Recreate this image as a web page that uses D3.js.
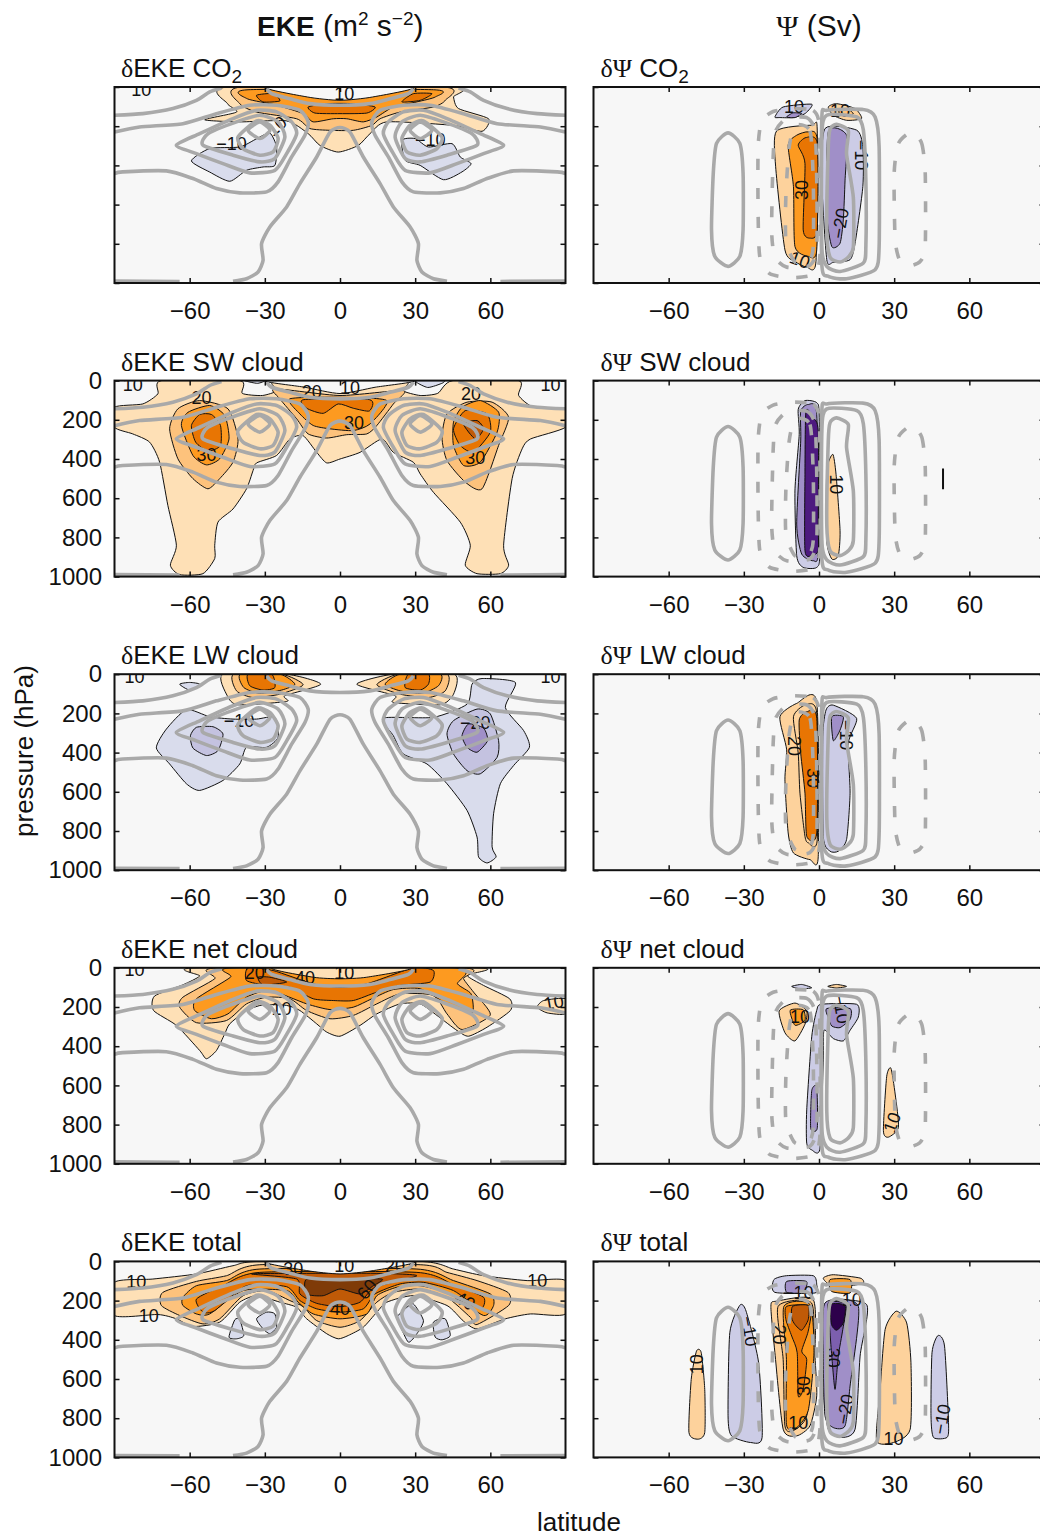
<!DOCTYPE html>
<html><head><meta charset="utf-8">
<script src="https://cdn.jsdelivr.net/npm/d3@7/dist/d3.min.js"></script>
<style>
html,body{margin:0;padding:0;background:#fff;overflow:hidden}
text{font-family:"Liberation Sans",Arial,sans-serif;fill:#111}
</style></head><body><svg id="c" width="1040" height="1538"></svg>
<script>
const latTicks=[-60,-30,0,30,60];
const pressureTicks=[0,200,400,600,800,1000];
const fillLevels=[0,10,15,20,30,40,50,60,-10,-15,-20,-30,-40,-50,-60];
const fillColors=["#f7f7f7","#fee0b6","#fdd29c","#fdc27c","#fd9a20","#e87503","#c05a07","#7f3b08","#d9dcec","#ccccE6","#c4c2e0","#a08fc8","#7c5fae","#4d1a7f","#2d004b"];
const rowNames=["CO2","SW cloud","LW cloud","net cloud","total"];

// climatological contours, flat lat,p lists
const ekeClimOpen=[
[-42.7,991,-37.3,978,-32.7,944,-30.7,884,-31.3,799,-28,714,-21.3,612,-16,493,-9.3,357,-4,230,0,207,4,230,9.3,357,16,493,21.3,612,28,714,31.3,799,30.7,884,32.7,944,37.3,978,42.7,991],
[-90,442,-86.7,433,-69.3,428,-58.7,467,-49.3,518,-40,540,-29.3,535,-24.7,484,-19.3,357,-14,246,-12.7,178,-16,119,-25.3,93,-36,93,-49.3,136,-62.7,187,-80,204,-90,230],
[90,442,86.7,433,69.3,428,58.7,467,49.3,518,40,540,29.3,535,24.7,484,19.3,357,14,246,12.7,178,16,119,25.3,93,36,93,49.3,136,62.7,187,80,204,90,230],
[-90,144,-78.7,136,-66.7,110,-57.3,68,-52,25,-47.3,5],
[90,144,78.7,136,66.7,110,57.3,68,52,25,47.3,5],
[-29.3,8,-27.3,34,-20,60,-12,85,0,93,12,85,20,60,27.3,34,29.3,8],
[-90,990,-64,992],[64,992,90,990]];
const ekeClimClosed=[
[-65.3,297,-56,238,-42.7,161,-33.3,119,-25.3,127,-19.3,178,-17.3,238,-21.3,340,-26,425,-36,438,-46.7,391,-57.3,340],
[-54.7,297,-52.7,238,-41.3,178,-32,144,-24.7,178,-22,255,-26,365,-32,382,-42.7,348],
[-40.7,255,-33.3,173,-28,195,-24.7,263,-26.7,331,-32,348,-38.7,314],
[-36.7,221,-32,178,-28,221,-32,263],
[65.3,297,56,238,42.7,161,33.3,119,25.3,127,19.3,178,17.3,238,21.3,340,26,425,36,438,46.7,391,57.3,340],
[54.7,297,52.7,238,41.3,178,32,144,24.7,178,22,255,26,365,32,382,42.7,348],
[40.7,255,33.3,173,28,195,24.7,263,26.7,331,32,348,38.7,314],
[36.7,221,32,178,28,221,32,263]];
const psiClimSolid=[
[-36.3,234,-31.6,288,-30.3,441,-30.3,729,-31.6,864,-36.3,915,-41.6,864,-42.9,729,-42.2,441,-40.9,288],
[3.1,119,17.7,115,22.4,153,24,305,24,814,22.4,932,11,978,3.7,966,1.1,898,1.1,170],
[3.1,144,15.1,153,17.7,220,18.7,475,18.7,814,17.7,898,8.4,941,3.1,915,1.1,814,1.1,254],
[7,190,11.7,224,11,342,13.7,563,13.7,817,11.7,868,8.4,893,4.4,868,3.1,732,3.7,308,4.4,215]];
const psiClimDashed=[
[-10.3,110,-2.3,120,0.1,190,0.4,478,0.4,851,-1.6,953,-10.3,973,-19.6,953,-23.6,868,-24.3,648,-24.3,308,-22.9,173,-18.3,125],
[-12.9,160,-4.9,156,-1.6,224,-0.9,478,-0.9,817,-3.6,910,-12.9,919,-17.6,868,-18.9,732,-18.3,356,-17.3,224],
[-9.6,195,-3.6,224,-2.3,478,-2.3,817,-4.3,893,-9.6,893,-13.2,783,-13.2,546,-11.9,308],
[37,229,41,288,42.4,441,42.4,814,40.4,890,36.4,912,32.4,890,30.4,780,30,441,31.7,288]];

// filled contour regions: [level, flat lat,p list]
const ekeCO2=[
[10,[-44.7,0,-44.9,85,-41.3,128,-54,167,-40,178,-21.3,173,-12.7,238,-8,298,-0.7,332,7.3,298,12,238,18.7,178,45.3,196,56.7,226,59.3,162,47.3,110,45.3,51,45.3,0]],
[20,[-39.3,0,-40,85,-33.3,128,-17.3,162,-12,212,-4,221,5.3,221,12.7,196,16,162,24,128,37.3,102,42,68,41.3,0]],
[30,[-36.7,14,-37,60,-25.3,93,-14.7,136,-10.7,178,-2.7,162,2.7,162,9.3,178,14.7,153,21.3,102,30.7,76,38,51,37.3,14]],
[40,[-12.7,102,-10,133,0,136,10.7,133,14,102,5.3,85,-5.3,85]],
[40,[-33.3,42,-30.7,76,-24,71,-26.7,34]],
[40,[24.7,76,32,68,36.7,34,29.3,34]],
[0,[-29,0,-13,51,0,68,13,51,29,0]],
[-10,[-59.3,377,-52,434,-44,481,-37.3,425,-30.7,408,-26,400,-25.3,306,-28,235,-33.3,264,-40,306,-52,314]],
[-10,[24.7,272,26,374,32,400,41.3,473,48.7,433,52.3,391,48,357,44.7,289,35.3,306,30,263]]];
const ekeSW=[
[10,[-90,136,-78.7,119,-72.7,68,-71.3,0,-40,0,-39,65,-31,76,-25,51,-25,0,25,0,25,51,32,76,39,65,45,0,71.3,0,71.3,76,77.3,136,90,144,90,238,76,298,72.7,348,68.7,500,65.3,840,67.3,942,64,985,54.7,985,50,942,52,840,48,722,37.3,570,32,476,29.3,417,21.3,366,16.7,298,8,366,0,400,-5.3,420,-9.3,366,-14.7,281,-20,298,-25.3,382,-33.3,420,-34.7,459,-37.3,552,-42.7,655,-48.7,722,-50,840,-50,908,-54.7,985,-64,990,-67.7,942,-65.3,840,-68.7,637,-72,416,-76,314,-82.7,272,-90,238]],
[20,[-68,246,-64.7,144,-56,102,-44.7,144,-40.7,298,-42.7,416,-48,500,-52.7,552,-58.7,500,-64.7,399]],
[20,[42.7,170,50.7,110,60.7,110,67.3,187,63.3,331,56.7,552,50,518,42.7,408,40.7,289]],
[20,[-26,42,-24,93,-17.3,195,-12.7,272,-5.3,293,2.7,276,10.7,272,14.7,229,21.3,119,25.3,51,0,76]],
[30,[-63.3,229,-60.7,162,-52,127,-46,178,-44.3,298,-48,399,-53.3,430,-58.7,382]],
[30,[45.3,212,48.7,136,56,102,63.3,161,62.7,263,56,416,49.3,433,45.3,331]],
[30,[-20,93,-16,170,-10.7,229,-4,246,5.3,255,12,221,18.7,102,0,85]],
[40,[-14.4,97,-13.3,141,-6.7,167,-0.7,119,5.3,141,11.7,155,11.7,97]],
[40,[-59.3,229,-56,173,-51.3,173,-47.7,229,-47.7,331,-52.7,360,-57.6,314]],
[40,[45.3,246,50,153,58.7,170,60,263,53.3,365,48,331]],
[50,[49.3,221,54.7,204,57.3,246,54,298]],
[0,[-29,0,-14,34,0,66,14,34,29,0]],
[-10,[30,0,35,35,41,12,41,0]],
[-10,[-38,0,-33,14,-30,0]]];
const ekeLW=[
[10,[-46.7,0,-45,110,-40.7,156,-21.3,139,-22,110,-7.7,51,-21.3,0]],
[10,[21.3,0,6.7,51,22,110,21.3,144,40,156,45.3,102,45.6,0]],
[20,[-42.4,0,-41.3,85,-34.7,119,-24,102,-14.7,54,-23.3,0]],
[20,[14.7,54,24,102,35.3,119,42,85,42.7,0,23.3,0]],
[30,[-39.7,0,-38.4,68,-32,98,-23.3,81,-18,51,-24,0]],
[30,[18,51,24,85,32.7,98,39.3,59,40,0,24,0]],
[40,[-36.7,0,-36,59,-30.7,81,-26,68,-27.3,0]],
[40,[26,68,32,81,35.3,51,35.3,0,27.3,0]],
[-10,[-64,51,-60,81,-56,51,-60,42]],
[-10,[-73.3,376,-69.3,280,-61.3,181,-52,217,-42.7,229,-33.3,229,-26,220,-24.7,322,-29.3,373,-37.3,373,-40,458,-46.7,542,-56,593,-61.3,559,-68,458]],
[-20,[-59.7,314,-57.3,271,-50.7,268,-46.7,305,-48.7,390,-53.3,415,-58.7,377]],
[-10,[17.3,224,37.3,220,50.7,153,52.7,51,56.7,22,70,42,66,170,73.3,288,75.6,373,69.3,466,64,559,61.3,712,60.7,881,62.3,932,58.7,963,55.3,932,54.7,831,50.7,695,42.7,559,34.7,458,25.3,407,21.3,314]],
[-20,[42.7,305,45.3,237,54.7,178,60,203,63.3,339,62.7,424,56,508,50.7,492,45.3,407]],
[-30,[48.7,314,51.3,254,57.3,275,58.9,339,54.7,398,50.7,373]]];
const ekeNet=[
[10,[-57.3,0,-56,42,-62.7,87,-74,144,-74.4,218,-65.3,294,-56,422,-53.3,464,-49.3,422,-46,337,-44,286,-37.3,218,-30.7,189,-21.3,192,-16,218,-9.3,286,-5.3,328,0,349,8,294,14.7,235,24,184,32,184,38.7,243,46.7,320,51.3,349,58.7,303,68,218,67.7,158,57.3,90,50.7,39,54.7,0]],
[20,[-48.7,0,-50,56,-62.7,150,-64,201,-57.3,280,-45.3,269,-37.3,184,-29.3,150,-20,158,-13.3,218,-4,260,5.3,243,14.7,184,24,133,37.3,141,42.7,235,48.7,315,60,240,53.3,124,49.3,56,48.7,0]],
[30,[-42.7,0,-43.7,48,-57.3,158,-58,218,-51.3,260,-44.7,235,-37.3,150,-28,116,-13.3,184,-4,213,5.3,201,12.7,158,21.3,111,32,107,42.7,184,52.7,230,52.3,133,46.9,82,46,0]],
[40,[-36.7,0,-37.3,65,-29.3,90,-20,99,-10.7,158,-2.7,167,5.3,167,14.7,124,24,90,36,73,37.3,14,29.3,0,10.7,82,0,99,-10.7,82,-26.7,14]],
[50,[-32.7,48,-30.7,87,-21.3,73,-28,48]],
[10,[-26.7,0,-10.7,48,0,56,10.7,48,28,0]],
[10,[78.7,201,81.3,167,90,158,90,235,82.7,230]]];
const ekeTotal=[
[10,[-90,107,-74.7,90,-57.3,64,-42.7,22,-32,0,32,0,45.3,39,57.3,73,74.7,98,90,98,90,268,76,268,66,293,54.7,344,49.3,305,42.7,225,29.3,175,18.7,208,14.7,259,9.3,336,3.3,378,-0.7,395,-5.3,369,-13.3,293,-17.3,234,-24,208,-33.3,175,-40,208,-48,310,-58.7,332,-65.3,293,-72.7,271,-90,276]],
[20,[-71.3,225,-64,276,-54.7,319,-48,293,-38.7,175,-29.3,149,-20,200,-14.7,231,-9.3,302,0,336,8,302,14.7,208,21.3,158,32,141,42.7,183,52,285,54.7,322,67.3,225,67,158,54.7,98,42.7,56,32,17,-32,17,-45.3,73,-57.3,102,-70.7,158]],
[30,[-62.7,183,-62.7,225,-57.3,268,-52,268,-38.7,149,-21.3,149,-16.7,208,-10.7,268,0,293,10.7,268,14.7,175,22.7,132,32,124,44,166,57.3,276,61.3,225,60,166,45.3,98,30.7,39,-32,39,-45.3,98,-57.3,124]],
[40,[-57.3,192,-54.7,259,-50,251,-37.3,124,-21.3,129,-16,200,-9.3,242,0,259,9.3,242,14,166,24,115,33.3,107,45.3,149,56,242,57.3,183,45.3,119,30.7,56,-32,56,-46.7,124]],
[50,[-35.3,64,-17.3,90,-16,166,-9.3,214,0,231,8,208,14,132,30.7,73,14.7,61,-16,61]],
[60,[-13.3,90,-13.3,166,-6.7,175,0,141,8,166,13.3,124,16.7,90,0,90]],
[0,[-29.3,0,-13.3,47,0,64,13.3,47,29.3,0]],
[-10,[-44.3,386,-42,298,-40,298,-38.4,378,-41.3,395]],
[-10,[-33.3,293,-29.3,259,-26,268,-25.3,336,-28,369,-30.7,344]],
[-10,[22.7,285,26,242,29.3,217,33.3,302,30.7,369,27.3,412,24,327]],
[-10,[37.3,310,42,293,44,378,40.7,400,38,386]]];
const psiCO2=[
[15,[-16.9,224,-17.3,407,-13.6,831,-9.6,890,-4.9,919,-1.2,890,-0.7,220,-2.9,195]],
[30,[-8.9,246,-12.3,297,-10.2,508,-9.6,814,-4.3,864,-0.9,831,-0.7,271,-4.3,229]],
[40,[-5.2,258,-8.3,297,-5.6,390,-6.3,729,-3.6,771,-0.7,729,-0.7,288]],
[-15,[-17.6,153,-14.3,102,-2.9,88,-5.6,136,-10.3,156,-15.6,156]],
[-30,[-12.9,153,-10.3,132,-6.9,136,-9.6,156]],
[15,[3.7,102,7,85,14.4,110,17,161,11,170,5.7,144]],
[20,[7.7,127,11,110,13.7,136,10.5,145]],
[-15,[2.4,212,15,220,17.5,305,17.5,508,14.4,797,12.4,881,5.7,895,3.1,881,1.1,475]],
[-30,[3.7,229,11,246,10.4,475,9.7,678,8.4,797,5.1,814,3.1,644]]];
const psiSW=[
[-15,[-8.3,147,-5.6,102,-0.9,113,0.1,190,0.4,868,-0.9,953,-6.3,953,-8.9,893,-9.6,563,-7.9,275]],
[-30,[-7.3,156,-4.3,122,-0.9,173,-0.3,868,-2.3,919,-6.9,885,-8.9,732,-7.3,308]],
[-50,[-5.2,156,-2.3,190,-0.3,258,-0.3,732,-0.3,868,-2.9,893,-5.6,868,-5.6,478]],
[15,[5.5,376,3.1,461,3.1,817,5.1,910,7.7,893,8.4,766,6.8,478]]];
const psiLW=[
[15,[-15.6,217,-8.9,149,-0.9,141,-0.3,929,-3.6,946,-10.2,912,-12.3,810,-13.6,539,-12.9,386]],
[15,[-10.2,217,-5.6,158,-0.9,200,-0.7,844,-4.3,860,-5.6,827,-7.6,607,-8.3,403]],
[40,[-7.9,234,-4.9,192,-0.9,225,-0.9,810,-4.9,827,-5.6,607,-7.3,403]],
[-15,[2.8,183,5.7,158,15,225,11.7,352,12.4,607,11,844,7.7,903,4.4,903,1.7,827,1.5,319]],
[-30,[5.1,217,9.7,217,8.4,285,5.7,339]]];
const psiNet=[
[-15,[-10.9,95,-6.9,85,-2.9,102,-7.6,107]],
[15,[3.5,95,7,85,11,95,7,103]],
[15,[-15.9,220,-9.6,180,-4.9,220,-5.6,288,-9.6,373,-13.6,331]],
[30,[-11.5,217,-6.3,214,-5.6,268,-9.6,293]],
[-15,[-0.9,217,1,186,15,186,15.7,251,12.4,319,9.7,373,5.7,361,2,319,1.7,470,0.4,920,-2.9,929,-4.9,895,-4.9,725,-2.9,352]],
[-30,[3.1,208,12.4,208,12.4,263,8.4,305,5.1,297,3.7,254]],
[-30,[-2.9,627,-0.9,610,-0.7,819,-3.3,819]],
[15,[28.7,512,30.4,644,31.7,814,27.7,864,25.7,831,27,556]]];
const psiTotal=[
[15,[-48.9,458,-47,466,-45.6,653,-45.6,873,-48.3,907,-51.9,873,-51,602]],
[-15,[-31.6,224,-29.1,254,-24.1,517,-22.7,898,-27.3,924,-34.9,890,-36.3,788,-35.6,364]],
[-15,[-18,93,-13,73,-2.3,73,-0.9,119,-1.6,161,-17.6,158]],
[-30,[-12.9,102,-5,102,-6.3,158,-12.9,158]],
[15,[1.7,85,5.7,68,16.4,85,17.7,110,12.4,124,4.4,119]],
[30,[4.4,93,12.4,93,12.4,161,5,153]],
[15,[-19.2,229,-17,203,-2.3,195,-1.6,483,-0.9,686,-3.6,839,-8.9,890,-14.3,856,-17.6,466]],
[20,[-16.3,229,-3,212,-2.3,466,-4.9,788,-10.3,864,-13.6,839,-14.3,500]],
[30,[-14,229,-3.6,220,-2,466,-4.3,761,-9.6,856,-13,831,-13,500]],
[40,[-12.9,229,-3.3,229,-4.3,356,-6.9,458,-4.9,500,-6.3,653,-8.3,686,-8.7,466,-10.9,381,-13.2,297]],
[50,[-10.5,229,-4.3,225,-4.3,297,-6.9,351,-9.6,322,-10.9,288]],
[-15,[1.7,229,19,220,16.4,483,14.4,856,8.4,898,3.7,856,1.7,653]],
[-30,[2.4,212,15.7,229,12.4,636,10.4,839,5.7,848,2.4,788,1.7,483]],
[-40,[3.7,212,10.8,220,9.5,347,7.7,483,6.4,653,5.1,483,4.4,364]],
[-60,[4.7,220,10.4,225,9.7,314,7,351,5,322]],
[15,[30.8,254,35,314,36.7,517,36.4,856,29.7,924,23,915,24.4,653,26.4,347]],
[-15,[47.5,378,50.1,432,51.7,822,51.1,898,45.7,898,44.7,788,45.1,466]]];

// contour labels: [lat, p, text, rotation]
const ekeCO2Labels=[[1.7,34,"10",0],[-43.3,289,"−10",0],[36,268,"−10",0],[-79.3,14,"10",0],[-27,215,"−10",-40]];
const ekeSWLabels=[[-55.3,85,"20",0],[-53.3,379,"30",0],[-11.3,54,"20",0],[4,37,"10",0],[5.6,216,"30",0],[52.3,68,"20",0],[54,391,"30",0],[-82.7,18,"10",0],[84,18,"10",0]];
const ekeLWLabels=[[-40.3,234,"−10",0],[54,246,"−20",0],[-82,12,"10",0],[84,12,"10",0]];
const ekeNetLabels=[[1.7,26,"10",0],[-23.3,206,"10",0],[85.3,175,"10",-10],[-14,48,"40",0],[-34,26,"20",0],[-82,8,"10",0]];
const ekeTotalLabels=[[-81.3,102,"10",0],[-76.3,276,"10",0],[78.7,98,"10",0],[-18.7,34,"30",0],[1.7,22,"10",0],[10.7,141,"60",-50],[0,242,"40",0],[50,200,"40",30],[22,22,"20",0]];
const psiCO2Labels=[[-7,525,"30",-90],[-7.6,881,"10",20],[17,347,"−10",90],[8.4,695,"−20",-80],[-10,102,"10",0],[8.4,119,"10",0]];
const psiSWLabels=[[7,529,"10",90]];
const psiLWLabels=[[-9.6,366,"20",90],[-2.3,530,"30",90],[11,310,"−10",90]];
const psiNetLabels=[[-7.6,246,"10",0],[29.1,788,"10",-70],[9,208,"−10",80]];
const psiTotalLabels=[[-48.9,525,"10",-90],[-27.6,356,"−10",80],[-15.9,373,"20",90],[-8.3,161,"−10",0],[11,195,"−10",0],[-6.3,636,"30",-90],[-8.3,822,"10",0],[10.4,754,"−20",-80],[5.7,492,"30",90],[29.7,903,"10",0],[49,805,"−10",-80]];
// short isolated contour segment in the SW cloud psi panel
const psiSWSegment=[49.5,449,49.5,554];

const svg=d3.select("#c");
const rowTop=i=>87+293.6*i, panelH=196, panelW=451;
const pairs=f=>d3.range(0,f.length,2).map(i=>[f[i],f[i+1]]);
const color=d3.scaleOrdinal(fillLevels,fillColors);
const y0=d3.scaleLinear().domain([0,1000]).range([0,panelH]);
const x0=d3.scaleLinear().domain([-90,90]).range([0,panelW]);
const closed=d3.line().x(d=>x0(d[0])).y(d=>y0(d[1])).curve(d3.curveCardinalClosed.tension(.35));
const open=d3.line().x(d=>x0(d[0])).y(d=>y0(d[1])).curve(d3.curveCardinal.tension(.35));
const fmt=d3.format("d");

function panel(left,i,fills,labels,isEke){
  const g=svg.append("g").attr("transform",`translate(${left},${rowTop(i)})`);
  const id=`clip${isEke?"e":"p"}${i}`;
  g.append("clipPath").attr("id",id).append("rect").attr("width",panelW).attr("height",panelH);
  g.append("rect").attr("width",panelW).attr("height",panelH).attr("fill","#f7f7f7");
  const body=g.append("g").attr("clip-path",`url(#${id})`);
  body.selectAll("path.f").data(fills).join("path").attr("class","f")
    .attr("d",d=>closed(pairs(d[1]))).attr("fill",d=>color(d[0]))
    .attr("stroke","#111").attr("stroke-width",1);
  if(!isEke && i===1) body.append("path").attr("d",open(pairs(psiSWSegment))).attr("fill","none").attr("stroke","#111").attr("stroke-width",2);
  body.selectAll("text").data(labels).join("text")
    .attr("transform",d=>`translate(${x0(d[0])},${y0(d[1])}) rotate(${d[3]})`)
    .attr("text-anchor","middle").attr("dy","0.36em").attr("font-size",18)
    .text(d=>d[2]);
  const grey=(data,gen,dash)=>body.selectAll(null).data(data).join("path")
    .attr("d",d=>gen(pairs(d))).attr("fill","none").attr("stroke","#a9a9a9")
    .attr("stroke-width",3.6).attr("stroke-linejoin","round").attr("stroke-dasharray",dash);
  if(isEke){ grey(ekeClimOpen,open,null); grey(ekeClimClosed,closed,null); }
  else { grey(psiClimSolid,closed,null); grey(psiClimDashed,closed,"11 18"); }
  const ax=(a,tv,tf,tr,pad)=>{
    const s=g.append("g").attr("transform",tr||null).call(a.tickValues(tv).tickFormat(tf).tickSize(-5).tickPadding(pad));
    s.select(".domain").remove();
    s.selectAll("line").attr("stroke","#111").attr("stroke-width",1.5);
    s.selectAll("text").attr("font-size",24).attr("fill","#111").attr("font-family",null);
  };
  const noLabel=()=>"";
  ax(d3.axisBottom(x0),latTicks,fmt,`translate(0,${panelH})`,19);
  ax(d3.axisTop(x0),latTicks,noLabel,null,3);
  ax(d3.axisLeft(y0),pressureTicks,(isEke&&i>0)?fmt:noLabel,null,12.5);
  ax(d3.axisRight(y0),pressureTicks,noLabel,`translate(${panelW},0)`,3);
  g.append("rect").attr("width",panelW).attr("height",panelH).attr("fill","none").attr("stroke","#111").attr("stroke-width",2);
}
const ekeFills=[ekeCO2,ekeSW,ekeLW,ekeNet,ekeTotal], ekeLabs=[ekeCO2Labels,ekeSWLabels,ekeLWLabels,ekeNetLabels,ekeTotalLabels];
const psiFills=[psiCO2,psiSW,psiLW,psiNet,psiTotal], psiLabs=[psiCO2Labels,psiSWLabels,psiLWLabels,psiNetLabels,psiTotalLabels];
rowNames.forEach((n,i)=>{
  panel(114.5,i,ekeFills[i],ekeLabs[i],true);
  panel(593.5,i,psiFills[i],psiLabs[i],false);
  const co=n==="CO2";
  [[121,"EKE "],[600.5,null]].forEach(([x,lab])=>{
    const t=svg.append("text").attr("x",x).attr("y",rowTop(i)-10).attr("font-size",26);
    t.append("tspan").attr("style",'font-family:"Liberation Serif",serif').text(lab?"δ":"δΨ");
    t.append("tspan").text((lab||" ")+(co?"CO":n));
    if(co) t.append("tspan").attr("font-size",19).attr("dy",6).text("2");
  });
});
const h1=svg.append("text").attr("x",257).attr("y",36).attr("font-size",30);
h1.append("tspan").attr("font-weight","bold").attr("font-size",28).text("EKE");
h1.append("tspan").text(" (m");
h1.append("tspan").attr("font-size",19).attr("dy",-11).text("2");
h1.append("tspan").attr("dy",11).text(" s");
h1.append("tspan").attr("font-size",19).attr("dy",-11).text("−2");
h1.append("tspan").attr("dy",11).text(")");
const h2=svg.append("text").attr("x",819).attr("y",36).attr("font-size",30).attr("text-anchor","middle");
h2.append("tspan").attr("style",'font-family:"Liberation Serif",serif').text("Ψ");
h2.append("tspan").text(" (Sv)");
svg.append("text").attr("transform","translate(33,751) rotate(-90)").attr("text-anchor","middle").attr("font-size",26).text("pressure (hPa)");
svg.append("text").attr("x",579).attr("y",1531).attr("text-anchor","middle").attr("font-size",26).text("latitude");
</script></body></html>
